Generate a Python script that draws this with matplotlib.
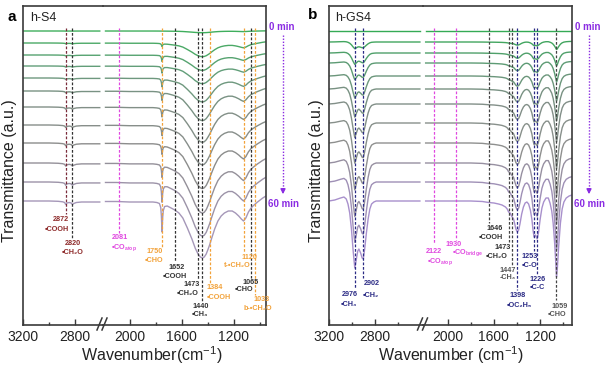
import numpy as np
import matplotlib
matplotlib.use("Agg")
import matplotlib.pyplot as plt
from matplotlib.colors import LinearSegmentedColormap
from matplotlib.lines import Line2D
from matplotlib.patches import FancyArrowPatch

plt.rcParams['font.family'] = ['Liberation Sans', 'DejaVu Sans']
plt.rcParams['mathtext.fontset'] = 'custom'
plt.rcParams['mathtext.rm'] = 'Liberation Sans'
plt.rcParams['mathtext.it'] = 'Liberation Sans:italic'
plt.rcParams['mathtext.bf'] = 'Liberation Sans:bold'

# ---------------- data ----------------
# baseline shift of each spectrum (0 min -> 60 min), a.u.
offsets_a = [31, 43, 55, 66, 78, 91, 107, 125, 143, 163, 182, 201]
offsets_b = [31, 42, 53, 63, 76, 89, 104, 123, 143, 163, 182, 201]

# panel a, 60 min band profile (depth, a.u.)
wn_a_hi = [3200, 3100, 3000, 2930, 2895, 2880, 2872, 2862, 2845, 2830, 2820, 2810, 2790, 2750, 2700, 2610]
band_a_hi = [0, 0, 0, 0.3, 0.8, 1.5, 3.5, 2, 1.5, 2, 3.5, 2.5, 1.5, 1, 1, 1]
wn_a_lo = [2185, 2100, 2000, 1900, 1820, 1790, 1770, 1760, 1755, 1750, 1745, 1740, 1730, 1710, 1680,
           1652, 1620, 1590, 1555, 1520, 1495, 1473, 1455, 1440, 1425, 1410, 1395, 1384, 1365, 1345,
           1320, 1295, 1270, 1240, 1210, 1185, 1160, 1140, 1123, 1105, 1085, 1065, 1050, 1033, 1015,
           995, 975, 950]
band_a_lo = [0.5, 0.5, 1, 1, 1, 1.5, 2, 2.5, 2.8, 3, 3.2, 3.5, 4, 5, 7,
             9, 12, 17, 27, 38, 47, 53, 56, 57, 56, 53, 48, 44, 36, 28,
             20, 15, 12, 10, 10, 12, 15, 18, 20, 17, 11, 7, 5, 3, 1,
             -1, -3, -5]
cho_a_lo = [0, 0, 0, 0, 0, 0, 0.5, 4, 12, 28, 13, 6, 1.5, 0, 0,
            0, 0, 0, 0, 0, 0, 0, 0, 0, 0, 0, 0, 0, 0, 0,
            0, 0, 0, 0, 0, 0, 0, 0, 0, 0, 0, 0, 0, 0, 0,
            0, 0, 0]
scale_a = [0.03, 0.24, 0.27, 0.31, 0.42, 0.52, 0.62, 0.7, 0.8, 0.88, 0.95, 1.0]
scale_a_cho = [0, 0.1, 0.2, 0.22, 0.27, 0.28, 0.29, 0.3, 0.32, 0.42, 0.62, 1.0]

# panel b, 60 min band profile
wn_b_hi = [3200, 3150, 3100, 3070, 3050, 3035, 3020, 3005, 2990, 2976, 2962, 2950, 2940, 2925,
           2912, 2902, 2890, 2875, 2860, 2845, 2830, 2810, 2790, 2700, 2600, 2500, 2410]
band_b_hi = [0, -1, -3, -4, -2, 3, 12, 28, 50, 67, 58, 50, 48, 52,
             57, 58, 48, 32, 18, 8, 3, 1, 0, 0, 0, 0, 0]
wn_b_lo = [2190, 2100, 2000, 1900, 1800, 1700, 1646, 1600, 1560, 1530, 1500, 1485, 1473, 1460,
           1447, 1430, 1420, 1410, 1398, 1386, 1375, 1360, 1345, 1330, 1315, 1300, 1285, 1272,
           1262, 1253, 1240, 1226, 1214, 1200, 1185, 1170, 1150, 1130, 1115, 1100, 1088, 1075,
           1065, 1059, 1052, 1040, 1025, 1010, 995, 975, 950, 925]
band_b_lo = [0, 0, 0, 0, 0, 0.5, 1.5, 2, 3, 4, 6, 8, 11, 12,
             15, 18, 23, 28, 31, 29, 23, 13, 6, 2, 1, 3, 9, 18,
             29, 36, 34, 38, 31, 18, 7, 1, -3, -3, 2, 10, 22, 42,
             62, 76, 68, 45, 22, 8, 1, -3, -5, -6]
scale_b = [0, 0.1, 0.17, 0.25, 0.33, 0.42, 0.5, 0.6, 0.7, 0.8, 0.9, 1.0]

# assigned bands
peaks_a = [2872, 2820, 2081, 1750, 1652, 1473, 1440, 1384, 1120, 1065, 1033]
peaks_b = [2976, 2902, 2122, 1930, 1646, 1473, 1447, 1398, 1253, 1226, 1059]

# ---------------- styling ----------------
W, H = 612, 365
fig = plt.figure(figsize=(W / 100, H / 100), dpi=100)


def fx(px):
    return px / W


def fy(py):
    return 1 - py / H


MAROON = '#8e2a2a'
MAGENTA = '#e048e0'
ORANGE = '#f2a23a'
DARK = '#333333'
GRAY = '#555555'
NAVY = '#2b2b85'
PURPLE = '#8a2be2'

cmap_a = LinearSegmentedColormap.from_list('a', ['#3fae5c', '#5f9f78', '#7f8f86', '#8d8d8d', '#a597b8'])
cmap_b = LinearSegmentedColormap.from_list('b', ['#34aa55', '#5a9c72', '#7f8f86', '#909090', '#a890cc'])


def make_axes(x0, xm, x1, lim_l, lim_r, maj_l, min_l, maj_r, min_r):
    axl = fig.add_axes([fx(x0), fy(325), fx(xm) - fx(x0), 319 / H])
    axr = fig.add_axes([fx(xm), fy(325), fx(x1) - fx(xm), 319 / H])
    axl.set_xlim(*lim_l)
    axr.set_xlim(*lim_r)
    axl.set_xticks(maj_l)
    axl.set_xticks(min_l, minor=True)
    axr.set_xticks(maj_r)
    axr.set_xticks(min_r, minor=True)
    for ax in (axl, axr):
        ax.set_ylim(-325, -6)
        ax.set_yticks([])
        ax.patch.set_alpha(0)
        for s in ax.spines.values():
            s.set_color('#3a3a3a')
            s.set_linewidth(1.2)
        ax.tick_params(axis='x', which='both', direction='in', labelsize=10,
                       pad=3.5, color='#3a3a3a', labelcolor='#222222')
        ax.tick_params(axis='x', which='major', length=4.5, width=1)
        ax.tick_params(axis='x', which='minor', length=2.5, width=1)
    axl.spines['right'].set_visible(False)
    axr.spines['left'].set_visible(False)
    # axis break mark
    for dx in (-3, 2):
        fig.add_artist(Line2D([fx(xm + dx - 2.5), fx(xm + dx + 2.5)], [fy(330), fy(318)],
                              color='#3a3a3a', lw=1.1))
    return axl, axr


def draw_spectra(axl, axr, wn_hi, band_hi, wn_lo, band_lo, offsets, scales, cmap,
                 extra=None, extra_scales=None):
    n = len(offsets)
    for i in range(n):
        c = cmap(i / (n - 1))
        y_hi = offsets[i] + scales[i] * np.array(band_hi)
        y_lo = offsets[i] + scales[i] * np.array(band_lo)
        if extra is not None:
            y_lo = y_lo + extra_scales[i] * np.array(extra)
        axl.plot(wn_hi, -y_hi, color=c, lw=1.0, zorder=2)
        axr.plot(wn_lo, -y_lo, color=c, lw=1.0, zorder=2)


def draw_marks(axl, axr, split, peaks, ends, colors, labels):
    for w, e, c in zip(peaks, ends, colors):
        ax = axl if w > split else axr
        ax.plot([w, w], [-28, -e], color=c, lw=0.9, ls=(0, (2.2, 1.4)), zorder=3)
    for s, w, y, c in labels:
        ax = axl if w > split else axr
        ax.text(w, -y, s, ha='center', va='center', fontsize=5.2, color=c,
                fontweight='bold', zorder=4)


def time_arrow(x):
    fig.text(fx(x), fy(27), '0 min', color=PURPLE, fontsize=7, fontweight='bold',
             ha='center', va='center')
    fig.add_artist(Line2D([fx(x + 1), fx(x + 1)], [fy(35), fy(190)], color=PURPLE,
                          lw=1.0, ls=(0, (1, 1.2))))
    fig.add_artist(FancyArrowPatch((fx(x + 1), fy(186)), (fx(x + 1), fy(197)),
                                   transform=fig.transFigure, arrowstyle='-|>',
                                   mutation_scale=7, color=PURPLE, lw=1.0))
    fig.text(fx(x + 2), fy(204), '60 min', color=PURPLE, fontsize=7, fontweight='bold',
             ha='center', va='center')


# ---------------- panel a ----------------
axl, axr = make_axes(23, 102.5, 266, (3200, 2589), (2208, 950),
                     [3200, 2800], [3000], [2000, 1600, 1200], [1800, 1400, 1000])
draw_spectra(axl, axr, wn_a_hi, band_a_hi, wn_a_lo, band_a_lo, offsets_a, scale_a, cmap_a,
             cho_a_lo, scale_a_cho)
ends_a = [214, 238, 233, 247, 262, 279, 301, 283, 253, 278, 295]
cols_a = ['#7a2b3a', '#333333', MAGENTA, ORANGE, DARK, DARK, DARK, ORANGE, ORANGE, DARK, ORANGE]
labels_a = [
    ('2872', 2908, 219, MAROON), ('•COOH', 2939, 229, MAROON),
    ('2820', 2820, 243, MAROON), ('•CH₂O', 2820, 252, MAROON),
    ('2081', 2073, 237, MAGENTA), (r'•CO$_{\mathbf{atop}}$', 2045, 248, MAGENTA),
    ('1750', 1804, 251, ORANGE), ('•CHO', 1814, 260, ORANGE),
    ('1652', 1637, 267, DARK), ('•COOH', 1650, 276, DARK),
    ('1473', 1522, 284, DARK), ('•CH₂O', 1554, 293, DARK),
    ('1384', 1346, 287, ORANGE), ('•COOH', 1316, 297, ORANGE),
    ('1440', 1452, 306, DARK), ('•CH₃', 1459, 314, DARK),
    ('1120', 1075, 257, ORANGE), ('t-•CH₂O', 1169, 265, ORANGE),
    ('1065', 1065, 282, DARK), ('•CHO', 1119, 289, DARK),
    ('1033', 988, 299, ORANGE), ('b-•CH₂O', 1015, 308, ORANGE),
]
draw_marks(axl, axr, 2400, peaks_a, ends_a, cols_a, labels_a)
fig.text(fx(30), fy(18), 'h-S4', fontsize=9, ha='left', va='center', color='#222222')
fig.text(fx(12), fy(17), 'a', fontsize=11, fontweight='bold', ha='center', va='center')
fig.text(fx(10), fy(171), 'Transmittance (a.u.)', fontsize=11.5, rotation=90,
         ha='center', va='center', color='#222222')
fig.text(fx(152), fy(355), 'Wavenumber(cm$^{-1}$)', fontsize=11.5, ha='center', va='center',
         color='#222222')
time_arrow(282)

# ---------------- panel b ----------------
axl, axr = make_axes(329, 423, 572, (3200, 2383), (2213, 925),
                     [3200, 2800], [3000, 2600], [2000, 1600, 1200], [1800, 1400, 1000])
draw_spectra(axl, axr, wn_b_hi, band_b_hi, wn_b_lo, band_b_lo, offsets_b, scale_b, cmap_b)
ends_b = [288, 278, 244, 240, 223, 242, 266, 290, 251, 274, 300]
cols_b = [NAVY, NAVY, MAGENTA, MAGENTA, '#444444', '#444444', '#444444', NAVY, NAVY, NAVY, '#444444']
labels_b = [
    ('2902', 2829, 283, NAVY), ('2976', 3017, 294, NAVY),
    ('•CH₂', 2835, 295, NAVY), ('•CH₃', 3024, 304, NAVY),
    ('2122', 2120, 251, MAGENTA), (r'•CO$_{\mathbf{atop}}$', 2065, 262, MAGENTA),
    ('1930', 1945, 244, MAGENTA), (r'•CO$_{\mathbf{bridge}}$', 1830, 253, MAGENTA),
    ('1646', 1591, 228, DARK), ('•COOH', 1625, 237, DARK),
    ('1473', 1521, 247, DARK), ('•CH₂O', 1576, 256, DARK),
    ('1447', 1481, 270, GRAY), ('-CH₃', 1481, 277, GRAY),
    ('1398', 1394, 295, NAVY), ('•OC₂H₅', 1380, 305, NAVY),
    ('1253', 1294, 256, NAVY), ('•C-O', 1294, 265, NAVY),
    ('1226', 1222, 279, NAVY), ('•C-C', 1222, 287, NAVY),
    ('1059', 1035, 306, GRAY), ('•CHO', 1057, 314, GRAY),
]
draw_marks(axl, axr, 2300, peaks_b, ends_b, cols_b, labels_b)
fig.text(fx(335), fy(18), 'h-GS4', fontsize=9, ha='left', va='center', color='#222222')
fig.text(fx(313), fy(15), 'b', fontsize=11, fontweight='bold', ha='center', va='center')
fig.text(fx(316), fy(171), 'Transmittance (a.u.)', fontsize=11.5, rotation=90,
         ha='center', va='center', color='#222222')
fig.text(fx(451), fy(355), 'Wavenumber (cm$^{-1}$)', fontsize=11.5, ha='center', va='center',
         color='#222222')
time_arrow(588)

fig.savefig('out.png', dpi=100)
